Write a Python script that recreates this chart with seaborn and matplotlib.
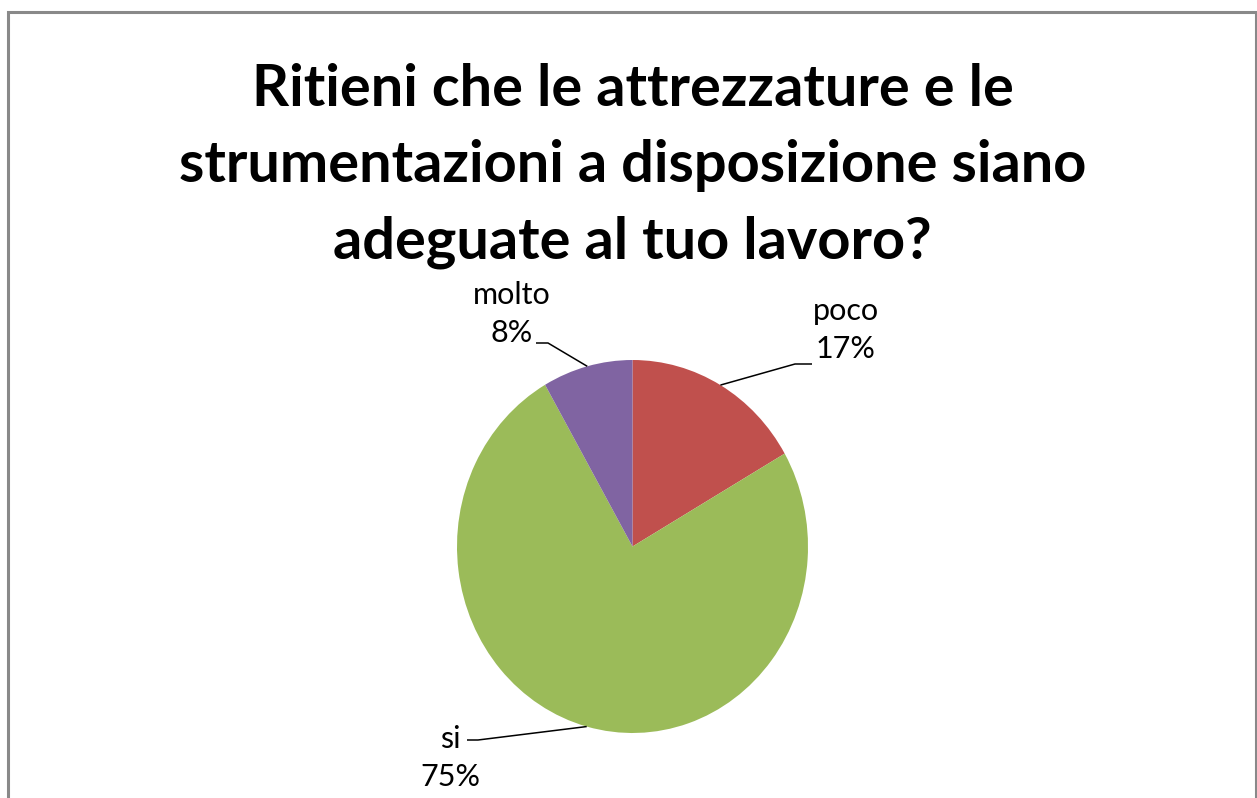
import matplotlib
matplotlib.use('Agg')
import matplotlib.pyplot as plt
import seaborn as sns
import numpy as np
from matplotlib.patches import Rectangle

# ---- data ----
categories = ['poco', 'si', 'molto']
shares = [16.7, 75.0, 8.3]
pct_labels = ['17%', '75%', '8%']
colors = ['#C0504D', '#9BBB59', '#8064A2']
title = ('Ritieni che le attrezzature e le\n'
         'strumentazioni a disposizione siano\n'
         'adeguate al tuo lavoro?')

sns.set_theme(style='white')
plt.rcParams['font.family'] = ['Lato', 'DejaVu Sans']

W, H = 1257, 798
fig = plt.figure(figsize=(W / 100, H / 100), dpi=100)
fig.patch.set_facecolor('white')

# pie geometry (pixels)
cx, cy = 632.5, 546.5
rx, ry = 175.5, 186.5
ax = fig.add_axes([(cx - 1.25 * rx) / W, (H - cy - 1.25 * ry) / H,
                   2.5 * rx / W, 2.5 * ry / H])
wedges, _ = ax.pie(shares, colors=colors, startangle=90, counterclock=False,
                   wedgeprops=dict(linewidth=0))
ax.set_aspect('auto')
ax.set_xlim(-1.25, 1.25)
ax.set_ylim(-1.25, 1.25)
ax.axis('off')


def px2d(px, py):
    return (px - cx) / rx, (cy - py) / ry


# label layout in pixels: text centre, elbow, line end near text
layout = {
    'poco': dict(text=(846, 330), elbow=(795, 364), end=(812, 364)),
    'molto': dict(text=(512, 314), elbow=(548, 343), end=(536, 343)),
    'si': dict(text=(450, 758), elbow=(478, 740), end=(467, 740)),
}

for w, cat, pl in zip(wedges, categories, pct_labels):
    lay = layout[cat]
    th = np.deg2rad((w.theta1 + w.theta2) / 2)
    edge = (np.cos(th), np.sin(th))
    el = px2d(*lay['elbow'])
    en = px2d(*lay['end'])
    ax.plot([edge[0], el[0], en[0]], [edge[1], el[1], en[1]],
            color='black', lw=1.1, clip_on=False, solid_capstyle='butt')
    tx, ty = px2d(*lay['text'])
    ax.text(tx, ty, f'{cat}\n{pl}', ha='center', va='center',
            fontsize=22, color='black', linespacing=1.47, clip_on=False)

fig.text(cx / W, 1 - 166 / H, title, ha='center', va='center',
         fontsize=41.6, fontweight='bold', color='black', linespacing=1.54)

# outer chart frame (bottom is cut off)
fig.patches.append(Rectangle((7.5 / W, -0.2), (1256 - 7.5) / W, 1.2 - 11.5 / H,
                             transform=fig.transFigure, fill=False,
                             edgecolor='#898989', linewidth=2.2, clip_on=False))

fig.savefig('out.png', dpi=100, facecolor='white')
